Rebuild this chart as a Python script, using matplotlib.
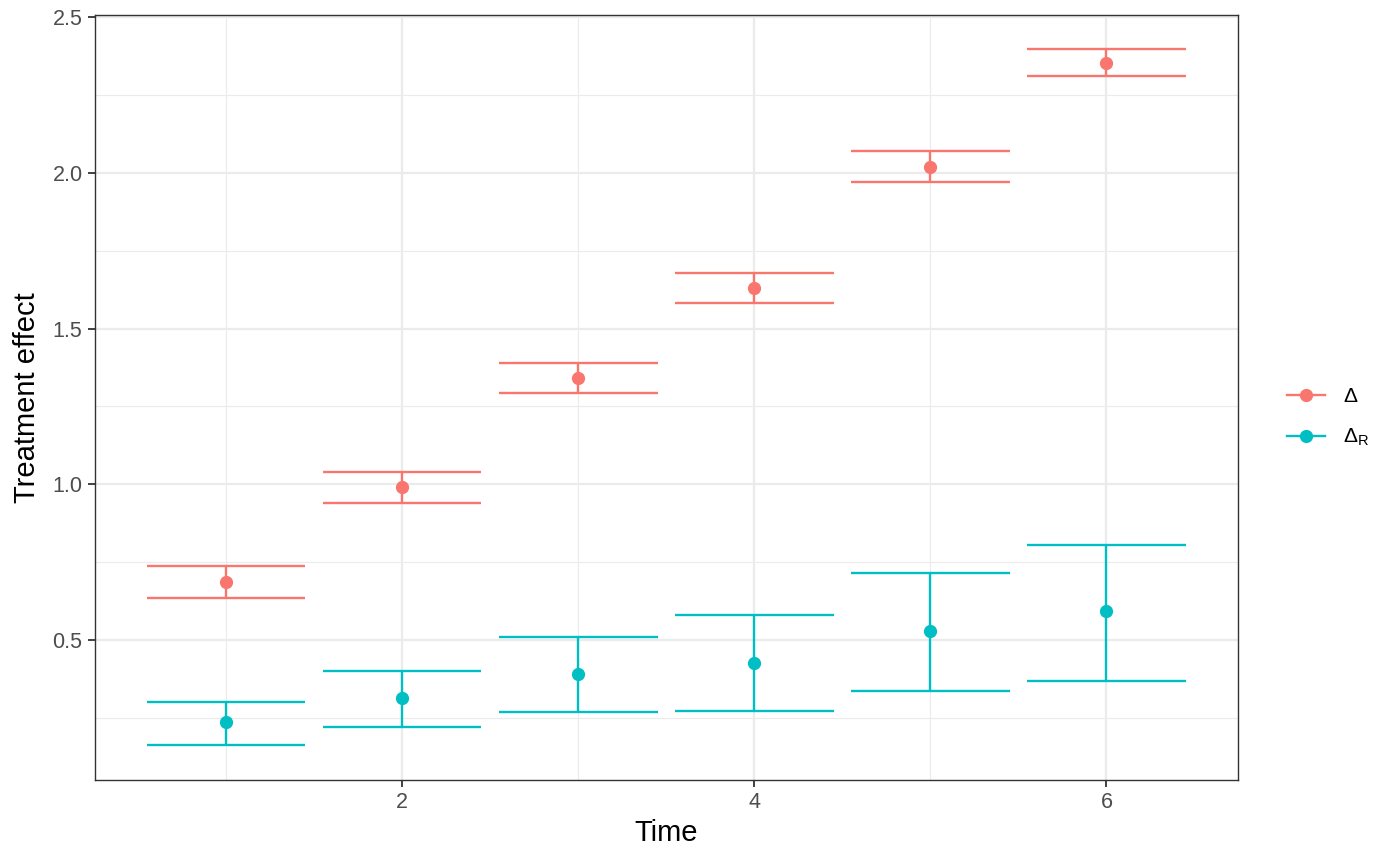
import matplotlib.pyplot as plt
from matplotlib.lines import Line2D
import numpy as np

plt.rcParams['font.family'] = ['Liberation Sans', 'DejaVu Sans']
plt.rcParams['mathtext.fontset'] = 'custom'
plt.rcParams['mathtext.rm'] = 'Liberation Sans'
plt.rcParams['mathtext.it'] = 'Liberation Sans'

time = [1, 2, 3, 4, 5, 6]

# Delta
delta = [0.686, 0.991, 1.341, 1.630, 2.018, 2.352]
delta_lo = [0.635, 0.940, 1.293, 1.582, 1.970, 2.311]
delta_hi = [0.738, 1.039, 1.389, 1.678, 2.070, 2.397]

# Delta_R
delta_r = [0.237, 0.314, 0.391, 0.426, 0.529, 0.593]
delta_r_lo = [0.163, 0.221, 0.269, 0.272, 0.336, 0.368]
delta_r_hi = [0.301, 0.400, 0.510, 0.580, 0.715, 0.805]

red = '#F8766D'
teal = '#00BFC4'
bar_w = 0.9

fig = plt.figure(figsize=(14, 8.65), dpi=100)
ax = fig.add_axes([0.0679, 1 - 780 / 865, 0.8161, 765 / 865])

t = np.array(time)
for y, lo, hi, col in [(delta, delta_lo, delta_hi, red),
                       (delta_r, delta_r_lo, delta_r_hi, teal)]:
    ax.hlines(lo, t - bar_w / 2, t + bar_w / 2, color=col, lw=1.7, zorder=3)
    ax.hlines(hi, t - bar_w / 2, t + bar_w / 2, color=col, lw=1.7, zorder=3)
    ax.vlines(t, lo, hi, color=col, lw=1.7, zorder=3)
    ax.plot(t, y, 'o', color=col, ms=8.5, zorder=4)

ax.set_xlim(0.255, 6.745)
ax.set_ylim(0.050, 2.507)
ax.set_xticks([2, 4, 6])
ax.set_yticks([0.5, 1.0, 1.5, 2.0, 2.5])
ax.set_xticks([1, 3, 5], minor=True)
ax.set_yticks([0.25, 0.75, 1.25, 1.75, 2.25], minor=True)
ax.grid(which='major', color='#EBEBEB', lw=1.6, zorder=0)
ax.grid(which='minor', color='#EBEBEB', lw=0.8, zorder=0)
ax.set_axisbelow(True)
ax.tick_params(which='major', length=5, width=1.3, color='#333333',
               labelcolor='#4D4D4D', labelsize=15.5, pad=4)
ax.tick_params(which='minor', length=0)
for s in ax.spines.values():
    s.set_color('#333333')
    s.set_linewidth(1.0)

ax.set_xlabel('Time', fontsize=21, labelpad=4)
ax.set_ylabel('Treatment effect', fontsize=21, labelpad=8)

handles = [Line2D([0], [0], color=red, lw=1.7, marker='o', ms=8.5),
           Line2D([0], [0], color=teal, lw=1.7, marker='o', ms=8.5)]
fig.legend(handles, ['Δ', r'$\mathregular{\Delta_R}$'], loc='center left',
           bbox_to_anchor=(0.906, 0.517), frameon=False, fontsize=15,
           handlelength=1.8, labelspacing=1.0, handletextpad=0.9)

fig.savefig('out.png', dpi=100)
